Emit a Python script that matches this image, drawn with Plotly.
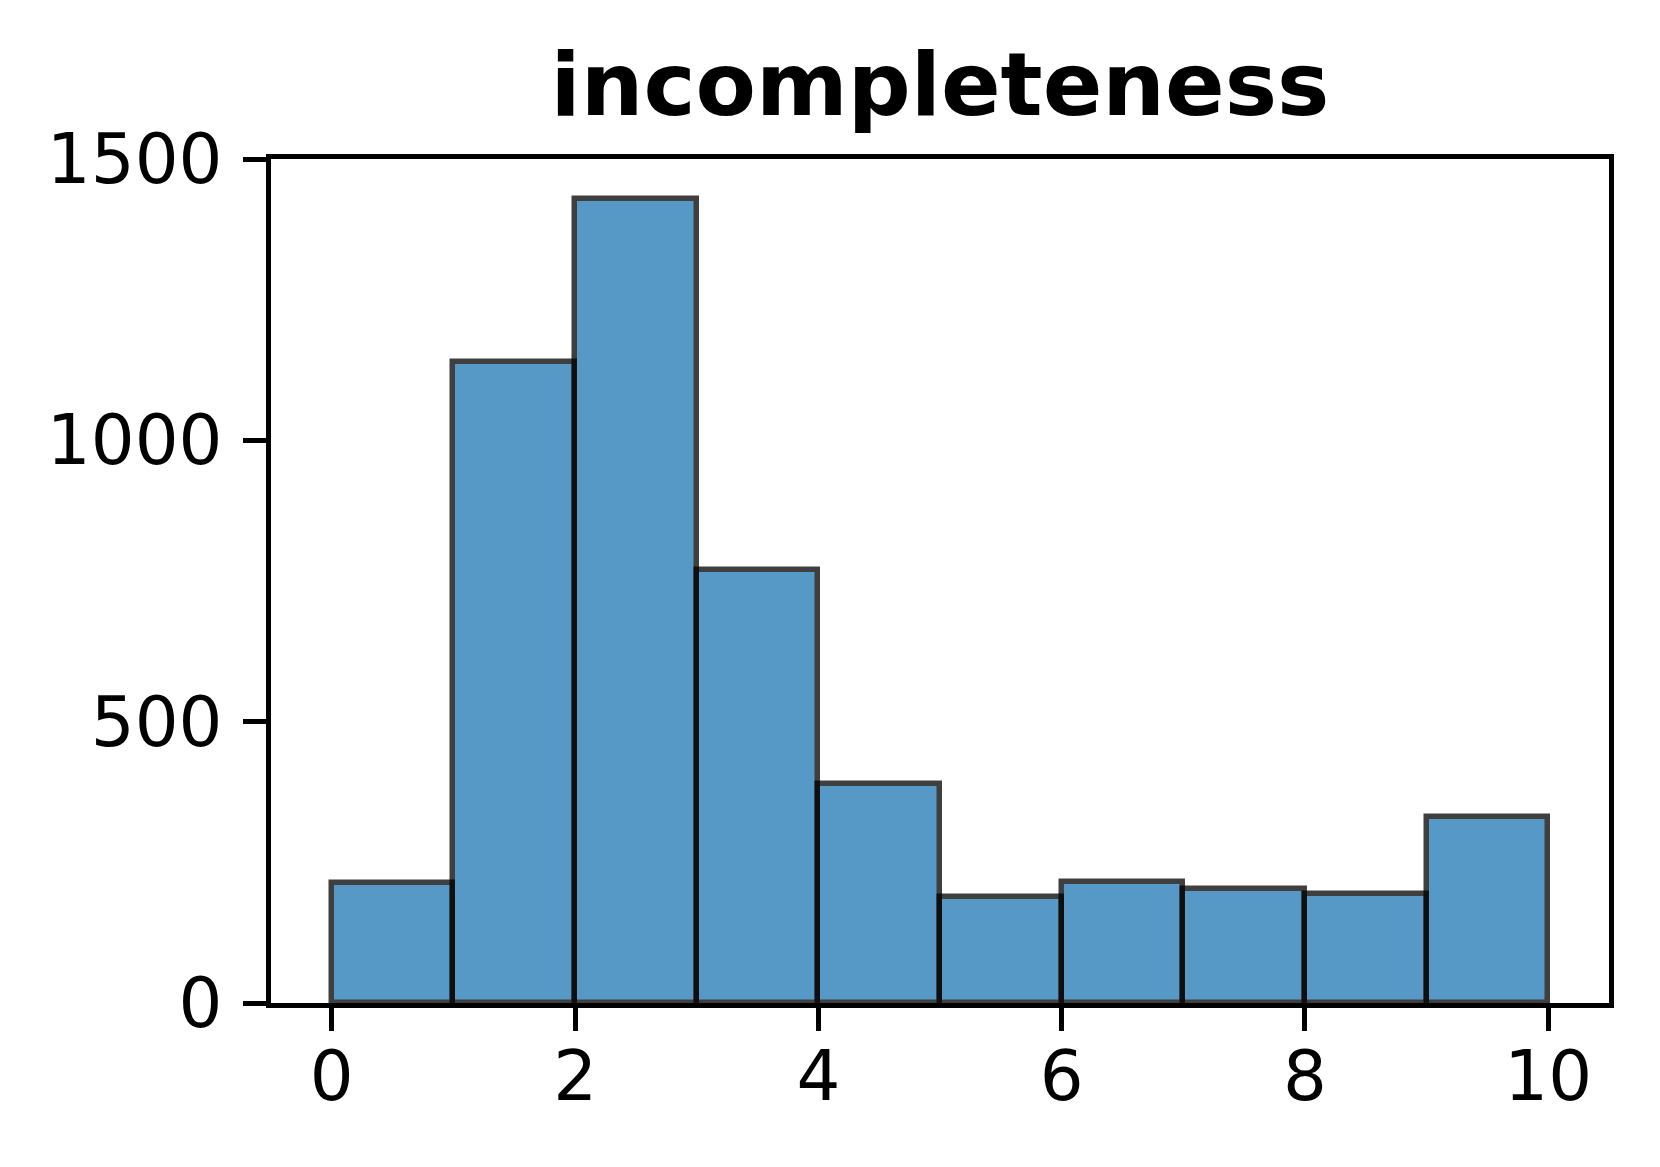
import plotly.graph_objects as go

# histogram counts per unit bin, bins from 0 to 10
bin_edges = [0, 1, 2, 3, 4, 5, 6, 7, 8, 9, 10]
counts = [213, 1139, 1429, 770, 390, 189, 215, 202, 193, 330]
x_ticks = [0, 2, 4, 6, 8, 10]
y_ticks = [0, 500, 1000, 1500]
title_text = "incompleteness"

centers = [(a + b) / 2 for a, b in zip(bin_edges[:-1], bin_edges[1:])]
widths = [b - a for a, b in zip(bin_edges[:-1], bin_edges[1:])]

fig = go.Figure(go.Bar(
    x=centers, y=counts, width=widths,
    marker=dict(color="#1f77b4", opacity=0.75,
                line=dict(color="black", width=5.5)),
))

axis_common = dict(
    showline=True, linecolor="black", linewidth=4.5, mirror=True,
    ticks="outside", ticklen=23, tickwidth=4.5, tickcolor="black",
    showgrid=False, zeroline=False,
    tickfont=dict(family="DejaVu Sans", size=69, color="black"),
)

fig.update_layout(
    width=1660, height=1167,
    margin=dict(l=263, r=59, t=151, b=172),
    paper_bgcolor="white", plot_bgcolor="white",
    showlegend=False, bargap=0,
    title=dict(text="<b>" + title_text + "</b>", x=0.5, xanchor="center",
               xref="paper", yref="paper", y=1, yanchor="bottom",
               pad=dict(b=44),
               font=dict(family="DejaVu Sans", size=88, color="black")),
    xaxis=dict(range=[-0.5, 10.5], tickvals=x_ticks, ticklabelstandoff=-14, **axis_common),
    yaxis=dict(range=[0, 1500], tickvals=y_ticks, ticklabelstandoff=7, **axis_common),
)

fig.write_html("out.html")
